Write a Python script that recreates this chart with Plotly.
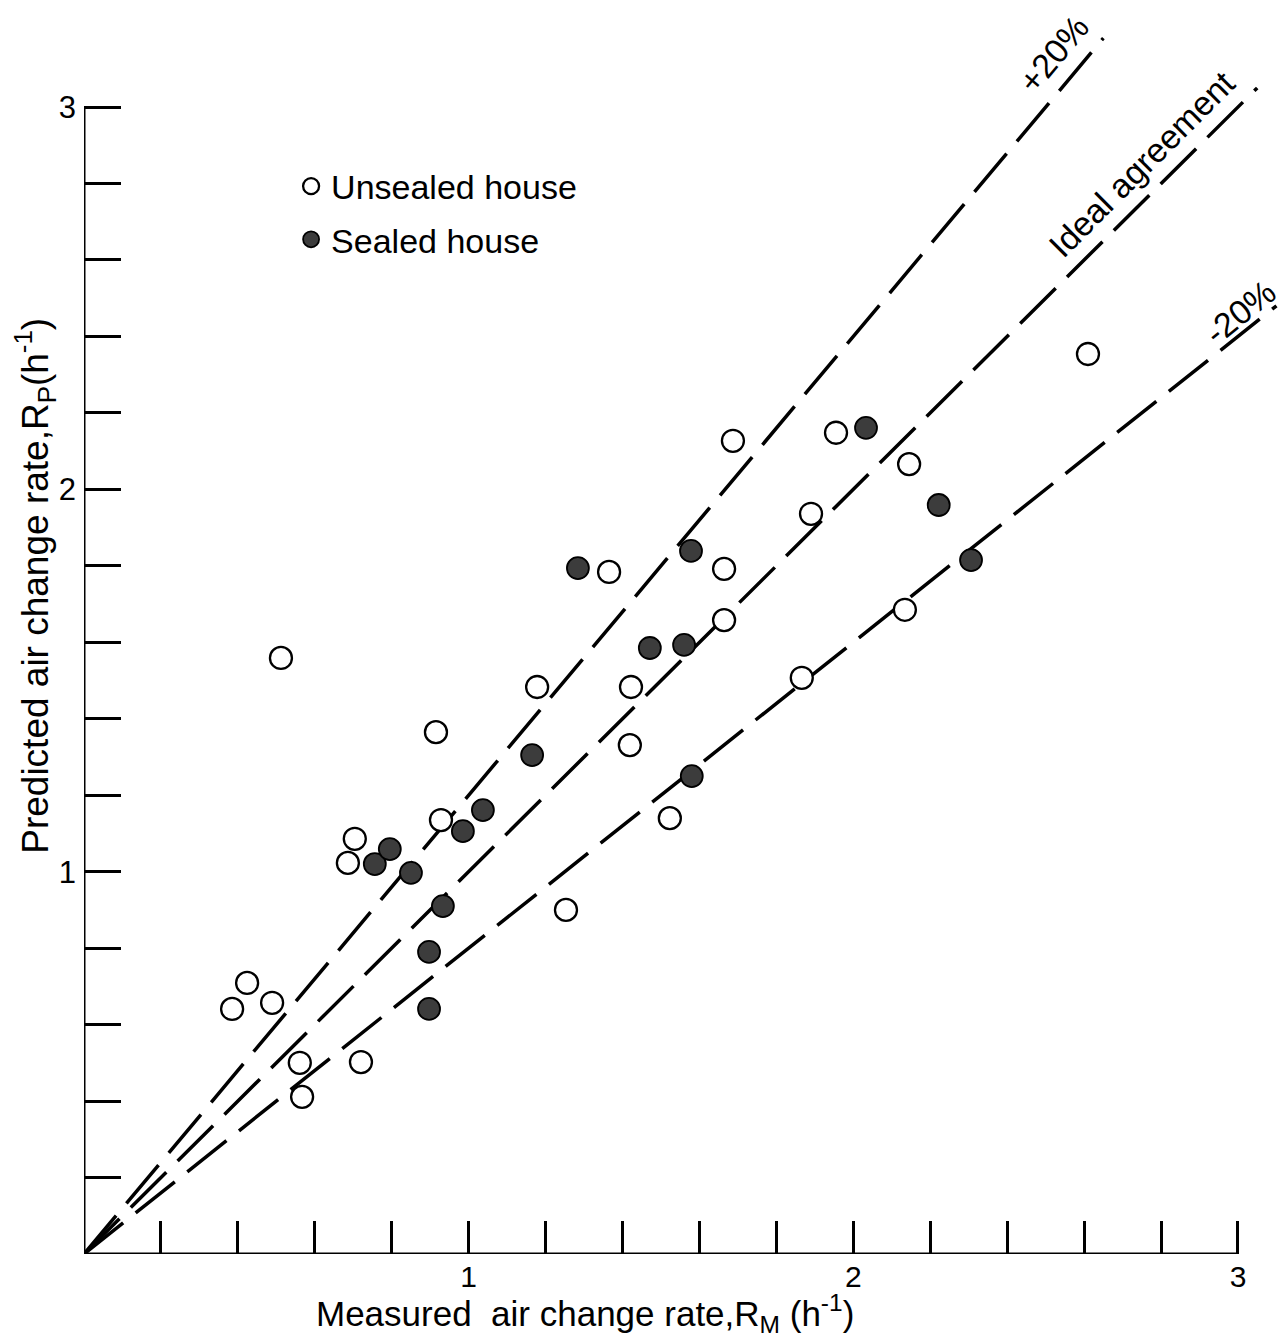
import plotly.graph_objects as go

# ---- data ----
unsealed_x = [0.385, 0.424, 0.489, 0.512, 0.561, 0.567, 0.686, 0.704, 0.720, 0.915,
              0.928, 1.178, 1.253, 1.365, 1.419, 1.422, 1.523, 1.664, 1.664, 1.687,
              1.866, 1.890, 1.955, 2.134, 2.145, 2.610]
unsealed_y = [0.641, 0.709, 0.657, 1.559, 0.500, 0.411, 1.023, 1.086, 0.502, 1.365,
              1.135, 1.483, 0.900, 1.784, 1.331, 1.483, 1.140, 1.792, 1.658, 2.127,
              1.507, 1.936, 2.148, 1.685, 2.066, 2.354]

sealed_x = [0.756, 0.795, 0.850, 0.897, 0.897, 0.933, 0.985, 1.037, 1.165, 1.284,
            1.471, 1.560, 1.578, 1.580, 2.033, 2.222, 2.306]
sealed_y = [1.020, 1.059, 0.997, 0.790, 0.641, 0.910, 1.106, 1.161, 1.305, 1.794,
            1.585, 1.593, 1.839, 1.250, 2.161, 1.959, 1.815]

line_ratios = [1.2, 1.0, 0.8]
line_end_x = [2.65, 3.05, 3.10]
line_labels = ["+20%", "Ideal agreement", "-20%"]

major_ticks = [1, 2, 3]
major_text = ["1", "2", "3"]
minor_ticks = [0.2, 0.4, 0.6, 0.8, 1.2, 1.4, 1.6, 1.8, 2.2, 2.4, 2.6, 2.8]

FONT = "Liberation Sans, Arial, Helvetica, sans-serif"

fig = go.Figure()

# reference lines
for r, xe in zip(line_ratios, line_end_x):
    fig.add_trace(go.Scatter(
        x=[0, xe], y=[0, r * xe], mode="lines",
        line=dict(color="black", width=3.5, dash="50px,16px"),
        showlegend=False, hoverinfo="skip"))

fig.add_trace(go.Scatter(
    x=unsealed_x, y=unsealed_y, mode="markers", name="Unsealed house",
    legendgroup="a",
    marker=dict(symbol="circle", size=22, color="white",
                line=dict(color="black", width=2.3))))
fig.add_trace(go.Scatter(
    x=sealed_x, y=sealed_y, mode="markers", name="Sealed house",
    legendgroup="b",
    marker=dict(symbol="circle", size=22, color="#3c3c3c",
                line=dict(color="black", width=1.8))))

# axis lines (only up to 3)
fig.add_shape(type="line", x0=0, y0=0, x1=3, y1=0, line=dict(color="black", width=3))
fig.add_shape(type="line", x0=0, y0=0, x1=0, y1=3, line=dict(color="black", width=3))

# line labels
label_pos = [(2.52, 3.14, -50), (2.75, 2.85, -45), (3.005, 2.465, -39)]
for (lx, ly, ang), txt in zip(label_pos, line_labels):
    fig.add_annotation(x=lx, y=ly, text=txt, showarrow=False, textangle=ang,
                       font=dict(size=34, color="black", family=FONT),
                       xanchor="center", yanchor="middle", borderpad=0)

# axis titles
fig.add_annotation(xref="paper", yref="paper", x=0.416, y=-0.0475,
                   text="Measured  air change rate,R<sub>M</sub> (h<sup>-1</sup>)",
                   showarrow=False, xanchor="center", yanchor="middle",
                   font=dict(size=35, color="black", family=FONT))
fig.add_annotation(xref="paper", yref="paper", x=-0.041, y=0.536,
                   text="Predicted air change rate,R<sub>P</sub>(h<sup>-1</sup>)",
                   showarrow=False, xanchor="center", yanchor="middle", textangle=-90,
                   font=dict(size=37, color="black", family=FONT))

# page body has an 8px margin: compensate so the plot lands where the reference is
fig.update_layout(
    width=1280, height=1329,
    margin=dict(l=76, r=0, t=0, b=83),
    paper_bgcolor="white", plot_bgcolor="white",
    font=dict(family=FONT, color="black"),
    showlegend=True,
    legend=dict(x=0.172, y=0.880, xanchor="left", yanchor="top",
                font=dict(size=34, color="black", family=FONT),
                bgcolor="rgba(0,0,0,0)", itemsizing="trace",
                tracegroupgap=6, traceorder="grouped"),
    xaxis=dict(range=[0, 3.13], showgrid=False, zeroline=False, showline=False,
               tickvals=major_ticks, ticktext=major_text, ticks="inside",
               ticklen=33, tickwidth=2.5, tickcolor="black", ticklabelstandoff=2,
               tickfont=dict(size=30, color="black", family=FONT),
               minor=dict(tickmode="array", tickvals=minor_ticks, ticks="inside",
                          ticklen=33, tickwidth=2.5, tickcolor="black", showgrid=False)),
    yaxis=dict(range=[0, 3.259], showgrid=False, zeroline=False, showline=False,
               tickvals=major_ticks, ticktext=major_text, ticks="inside",
               ticklen=37, tickwidth=2.5, tickcolor="black", ticklabelstandoff=7,
               tickfont=dict(size=31, color="black", family=FONT),
               minor=dict(tickmode="array", tickvals=minor_ticks, ticks="inside",
                          ticklen=37, tickwidth=2.5, tickcolor="black", showgrid=False)),
)

fig.write_html("out.html")
